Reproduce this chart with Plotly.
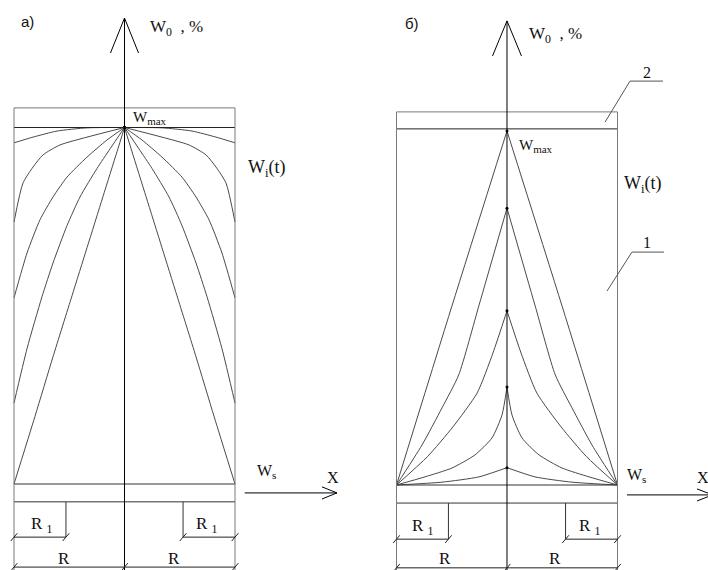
import plotly.graph_objects as go

# ---- panel a): moisture profiles peaking at the centre, W = Wmax at x = 0 ----
# r = |x| / R (distance from the axis), w = (W - Ws) / (Wmax - Ws)
A_R = [
    [1.0, 0.828, 0.611, 0.339, 0.0],
    [1.0, 0.919, 0.828, 0.738, 0.584, 0.339, 0.0],
    [1.0, 0.882, 0.765, 0.647, 0.520, 0.339, 0.158, 0.0],
    [1.0, 0.882, 0.747, 0.647, 0.520, 0.403, 0.249, 0.131, 0.0],
    [1.0, 0.810, 0.647, 0.475, 0.339, 0.195, 0.068, 0.0],
]
A_W = [
    [0.957, 0.973, 0.990, 0.999, 1.0],
    [0.735, 0.844, 0.889, 0.923, 0.951, 0.973, 1.0],
    [0.522, 0.648, 0.741, 0.805, 0.861, 0.917, 0.965, 1.0],
    [0.227, 0.380, 0.525, 0.620, 0.725, 0.805, 0.885, 0.940, 1.0],
    [0.0, 0.190, 0.357, 0.528, 0.663, 0.806, 0.932, 1.0],
]

# ---- panel б): profiles falling to Ws at the walls, peak decreasing in time ----
B_R = [
    [1.0, 0.498, 0.0],
    [1.0, 0.769, 0.588, 0.437, 0.253, 0.0],
    [1.0, 0.72, 0.49, 0.27, 0.127, 0.0],
    [1.0, 0.742, 0.498, 0.29, 0.136, 0.045, 0.0],
    [1.0, 0.588, 0.253, 0.0],
]
B_W = [
    [0.0, 0.506, 1.0],
    [0.0, 0.113, 0.218, 0.311, 0.508, 0.782],
    [0.0, 0.08, 0.164, 0.26, 0.373, 0.492],
    [0.0, 0.023, 0.048, 0.085, 0.133, 0.198, 0.277],
    [0.0, 0.008, 0.023, 0.049],
]

R = 1.0
R1 = 0.47

CURVE = "#4a4a4a"
FRAME = "#7a7a7a"
SERIF = "Liberation Serif"
SANS = "Liberation Sans"

fig = go.Figure()


def line(xs, ys, ax, color=FRAME, width=1):
    fig.add_trace(go.Scatter(x=xs, y=ys, mode="lines", xaxis=ax[0], yaxis=ax[1],
                             line=dict(color=color, width=width),
                             hoverinfo="skip", showlegend=False))


def label(text, x, y, ax, size=15, family=SERIF, xanchor="left"):
    fig.add_annotation(text=text, x=x, y=y, xref=ax[0], yref=ax[1],
                       showarrow=False, xanchor=xanchor, yanchor="middle",
                       font=dict(family=family, size=size, color="#111"))


def panel(ax, rs, ws, top, wline, base, dim1, dim2, bottom, tip, wing_y, wing_dx,
          xarrow, xarrow_y, tick=(0.03, 0.011)):
    # curves: each half drawn on its own so the peak stays a sharp point
    for r, w in zip(rs, ws):
        for side in (-1, 1):
            fig.add_trace(go.Scatter(x=[side * v for v in r], y=w, mode="lines",
                                     xaxis=ax[0], yaxis=ax[1],
                                     line=dict(color=CURVE, width=1, shape="spline",
                                               smoothing=0.6),
                                     hoverinfo="skip", showlegend=False))
        fig.add_trace(go.Scatter(x=[0], y=[w[-1]], mode="markers", xaxis=ax[0], yaxis=ax[1],
                                 marker=dict(color="black", size=3),
                                 hoverinfo="skip", showlegend=False))
    # body outline
    line([-R, R], [top, top], ax)
    line([-R, R], [wline, wline], ax, color="#222")
    line([-R, R], [0, 0], ax, color="#333")
    line([-R, R], [base, base], ax, color="#333")
    line([-R, -R], [top, bottom], ax)
    line([R, R], [top, bottom], ax)
    # W0 axis with open arrow head
    line([0, 0], [tip, bottom], ax, color="black")
    line([-wing_dx, 0, wing_dx], [wing_y, tip, wing_y], ax, color="black")
    # X axis arrow
    x0, x1, xw = xarrow
    line([x0, x1], [xarrow_y, xarrow_y], ax, color="black")
    line([xw, x1, xw], [xarrow_y + 0.017, xarrow_y, xarrow_y - 0.017], ax, color="black")
    # dimension lines R1 and R
    line([-R + R1, -R + R1], [base, dim1], ax, color="#333")
    line([R - R1, R - R1], [base, dim1], ax, color="#333")
    line([-R, -R + R1], [dim1, dim1], ax, color="#222")
    line([R - R1, R], [dim1, dim1], ax, color="#222")
    line([-R, R], [dim2, dim2], ax, color="#222")
    tx, ty = tick
    for px, py in [(-R, dim1), (-R + R1, dim1), (R - R1, dim1), (R, dim1),
                   (-R, dim2), (0, dim2), (R, dim2)]:
        line([px - tx, px + tx], [py - ty, py + ty], ax, color="#222")


AX_A = ("x", "y")
AX_B = ("x2", "y2")

panel(AX_A, A_R, A_W, top=1.055, wline=1.0, base=-0.05, dim1=-0.149, dim2=-0.233,
      bottom=-0.245, tip=1.307, wing_y=1.209, wing_dx=0.127,
      xarrow=(1.088, 1.923, 1.787), xarrow_y=-0.025)
panel(AX_B, B_R, B_W, top=1.054, wline=1.006, base=-0.051, dim1=-0.153, dim2=-0.234,
      bottom=-0.245, tip=1.311, wing_y=1.212, wing_dx=0.131,
      xarrow=(1.086, 1.86, 1.72), xarrow_y=-0.028)

# leaders 1 and 2 in panel б)
line([0.887, 1.113, 1.412], [1.025, 1.141, 1.141], AX_B, color="#555")
line([0.905, 1.131, 1.421], [0.548, 0.658, 0.658], AX_B, color="#555")

# texts, panel a)
label("a)", -0.874, 1.296, AX_A, size=15, family=SANS, xanchor="center")
label("W<sub>0</sub>  , %", 0.213, 1.279, AX_A, size=17)
label("W<sub><span style='font-size:11px'>max</span></sub>", 0.059, 1.027, AX_A, size=15)
label("W<sub>i</sub>(t)", 1.10, 0.886, AX_A, size=18)
label("W<sub>s</sub>", 1.18, 0.034, AX_A, size=16)
label("X", 1.814, 0.017, AX_A, size=16)
label("R <sub>1</sub>", -0.747, -0.115, AX_A, size=17, xanchor="center")
label("R <sub>1</sub>", 0.747, -0.115, AX_A, size=17, xanchor="center")
label("R", -0.55, -0.208, AX_A, size=17, xanchor="center")
label("R", 0.45, -0.208, AX_A, size=17, xanchor="center")

# texts, panel б)
label("б)", -0.860, 1.305, AX_B, size=15, family=SANS, xanchor="center")
label("W<sub>0</sub>  , %", 0.181, 1.271, AX_B, size=17)
label("W<sub><span style='font-size:11px'>max</span></sub>", 0.090, 0.958, AX_B, size=15)
label("W<sub>i</sub>(t)", 1.041, 0.850, AX_B, size=18)
label("W<sub>s</sub>", 1.07, 0.028, AX_B, size=16)
label("X", 1.70, 0.02, AX_B, size=16)
label("2", 1.267, 1.164, AX_B, size=16, xanchor="center")
label("1", 1.267, 0.684, AX_B, size=16, xanchor="center")
label("R <sub>1</sub>", -0.760, -0.119, AX_B, size=17, xanchor="center")
label("R <sub>1</sub>", 0.751, -0.119, AX_B, size=17, xanchor="center")
label("R", -0.561, -0.209, AX_B, size=17, xanchor="center")
label("R", 0.434, -0.209, AX_B, size=17, xanchor="center")

hidden = dict(visible=False, fixedrange=True)
fig.update_layout(
    width=708, height=570,
    margin=dict(l=0, r=0, t=0, b=0),
    paper_bgcolor="white", plot_bgcolor="white",
    xaxis=dict(range=[-1.1267, 5.2805], domain=[0, 1], **hidden),
    yaxis=dict(range=[-0.2412, 1.3576], domain=[0, 1], **hidden),
    xaxis2=dict(range=[-4.588, 1.819], overlaying="x", anchor="y2", **hidden),
    yaxis2=dict(range=[-0.2401, 1.3701], overlaying="y", anchor="x2", **hidden),
)

# the page body has a default 8px margin; drop it so the drawing sits at (0, 0)
fig.write_html("out.html", config={"displayModeBar": False},
               post_script="document.body.style.margin='0';")
